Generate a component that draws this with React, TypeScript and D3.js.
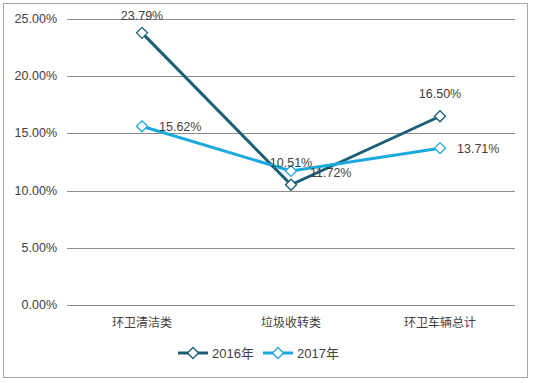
import React from "react";
import * as d3 from "d3";

const categories = ["环卫清洁类", "垃圾收转类", "环卫车辆总计"];
const series2016 = [23.79, 10.51, 16.5];
const series2017 = [15.62, 11.72, 13.71];
const yTicks = [0, 5, 10, 15, 20, 25];
const seriesNames = ["2016年", "2017年"];

const W = 533, H = 383;
const colors = ["#1B5E75", "#1BA9DE"];

export default function App() {
  const x = d3.scalePoint<string>().domain(categories).range([142, 440]);
  const y = d3.scaleLinear().domain([0, 25]).range([305, 19]);
  const line = d3.line<number>().x((_, i) => x(categories[i])!).y((d) => y(d));
  const font = "'Liberation Sans', Arial, sans-serif";
  const cjk = "'Noto Sans CJK SC', sans-serif";
  const diamond = (cx: number, cy: number, c: string, k: string) => (
    <path key={k} d={`M${cx},${cy - 5.5}L${cx + 5.5},${cy}L${cx},${cy + 5.5}L${cx - 5.5},${cy}Z`} fill="#fff" stroke={c} strokeWidth={1.3} />
  );
  const data = [series2016, series2017];
  const lab: [number, number, string][][] = [
    [[0, -13, "middle"], [0, -18, "middle"], [0, -18, "middle"]],
    [[17, 5, "start"], [19, 6, "start"], [17, 5, "start"]],
  ];
  return (
    <svg width={W} height={H} style={{ position: "absolute", left: 0, top: 0 }}>
      <rect x={0} y={0} width={W} height={H} fill="#fff" />
      <rect x={3.5} y={3.5} width={524} height={374} fill="none" stroke="#a6a6a6" strokeWidth={1} />
      {yTicks.map((t) => (
        <g key={t}>
          <line x1={67} x2={515} y1={Math.round(y(t)) + 0.5} y2={Math.round(y(t)) + 0.5} stroke="#8c8c8c" strokeWidth={1} />
          <text x={57} y={y(t) + 4} textAnchor="end" fontFamily={font} fontSize={12.5} fill="#404040">
            {t.toFixed(2)}%
          </text>
        </g>
      ))}
      {categories.map((c) => (
        <text key={c} x={x(c)} y={327} textAnchor="middle" fontFamily={cjk} fontSize={12} fill="#404040">
          {c}
        </text>
      ))}
      {data.map((s, si) => (
        <path key={"l" + si} d={line(s)!} fill="none" stroke={colors[si]} strokeWidth={3} />
      ))}
      {data.map((s, si) => s.map((v, i) => diamond(x(categories[i])!, y(v), colors[si], `m${si}${i}`)))}
      {data.map((s, si) =>
        s.map((v, i) => (
          <text key={`t${si}${i}`} x={x(categories[i])! + lab[si][i][0]} y={y(v) + lab[si][i][1]} textAnchor={lab[si][i][2] as any} fontFamily={font} fontSize={12.5} fill="#404040">
            {v.toFixed(2)}%
          </text>
        ))
      )}
      {seriesNames.map((n, i) => {
        const lx = 178 + i * 85;
        return (
          <g key={n}>
            <line x1={lx} x2={lx + 30} y1={353} y2={353} stroke={colors[i]} strokeWidth={3} />
            {diamond(lx + 15, 353, colors[i], "lg" + i)}
            <text x={lx + 34} y={358} fontFamily={font} fontSize={13} fill="#404040">
              {n.slice(0, 4)}
              <tspan fontFamily={cjk}>{n.slice(4)}</tspan>
            </text>
          </g>
        );
      })}
    </svg>
  );
}
